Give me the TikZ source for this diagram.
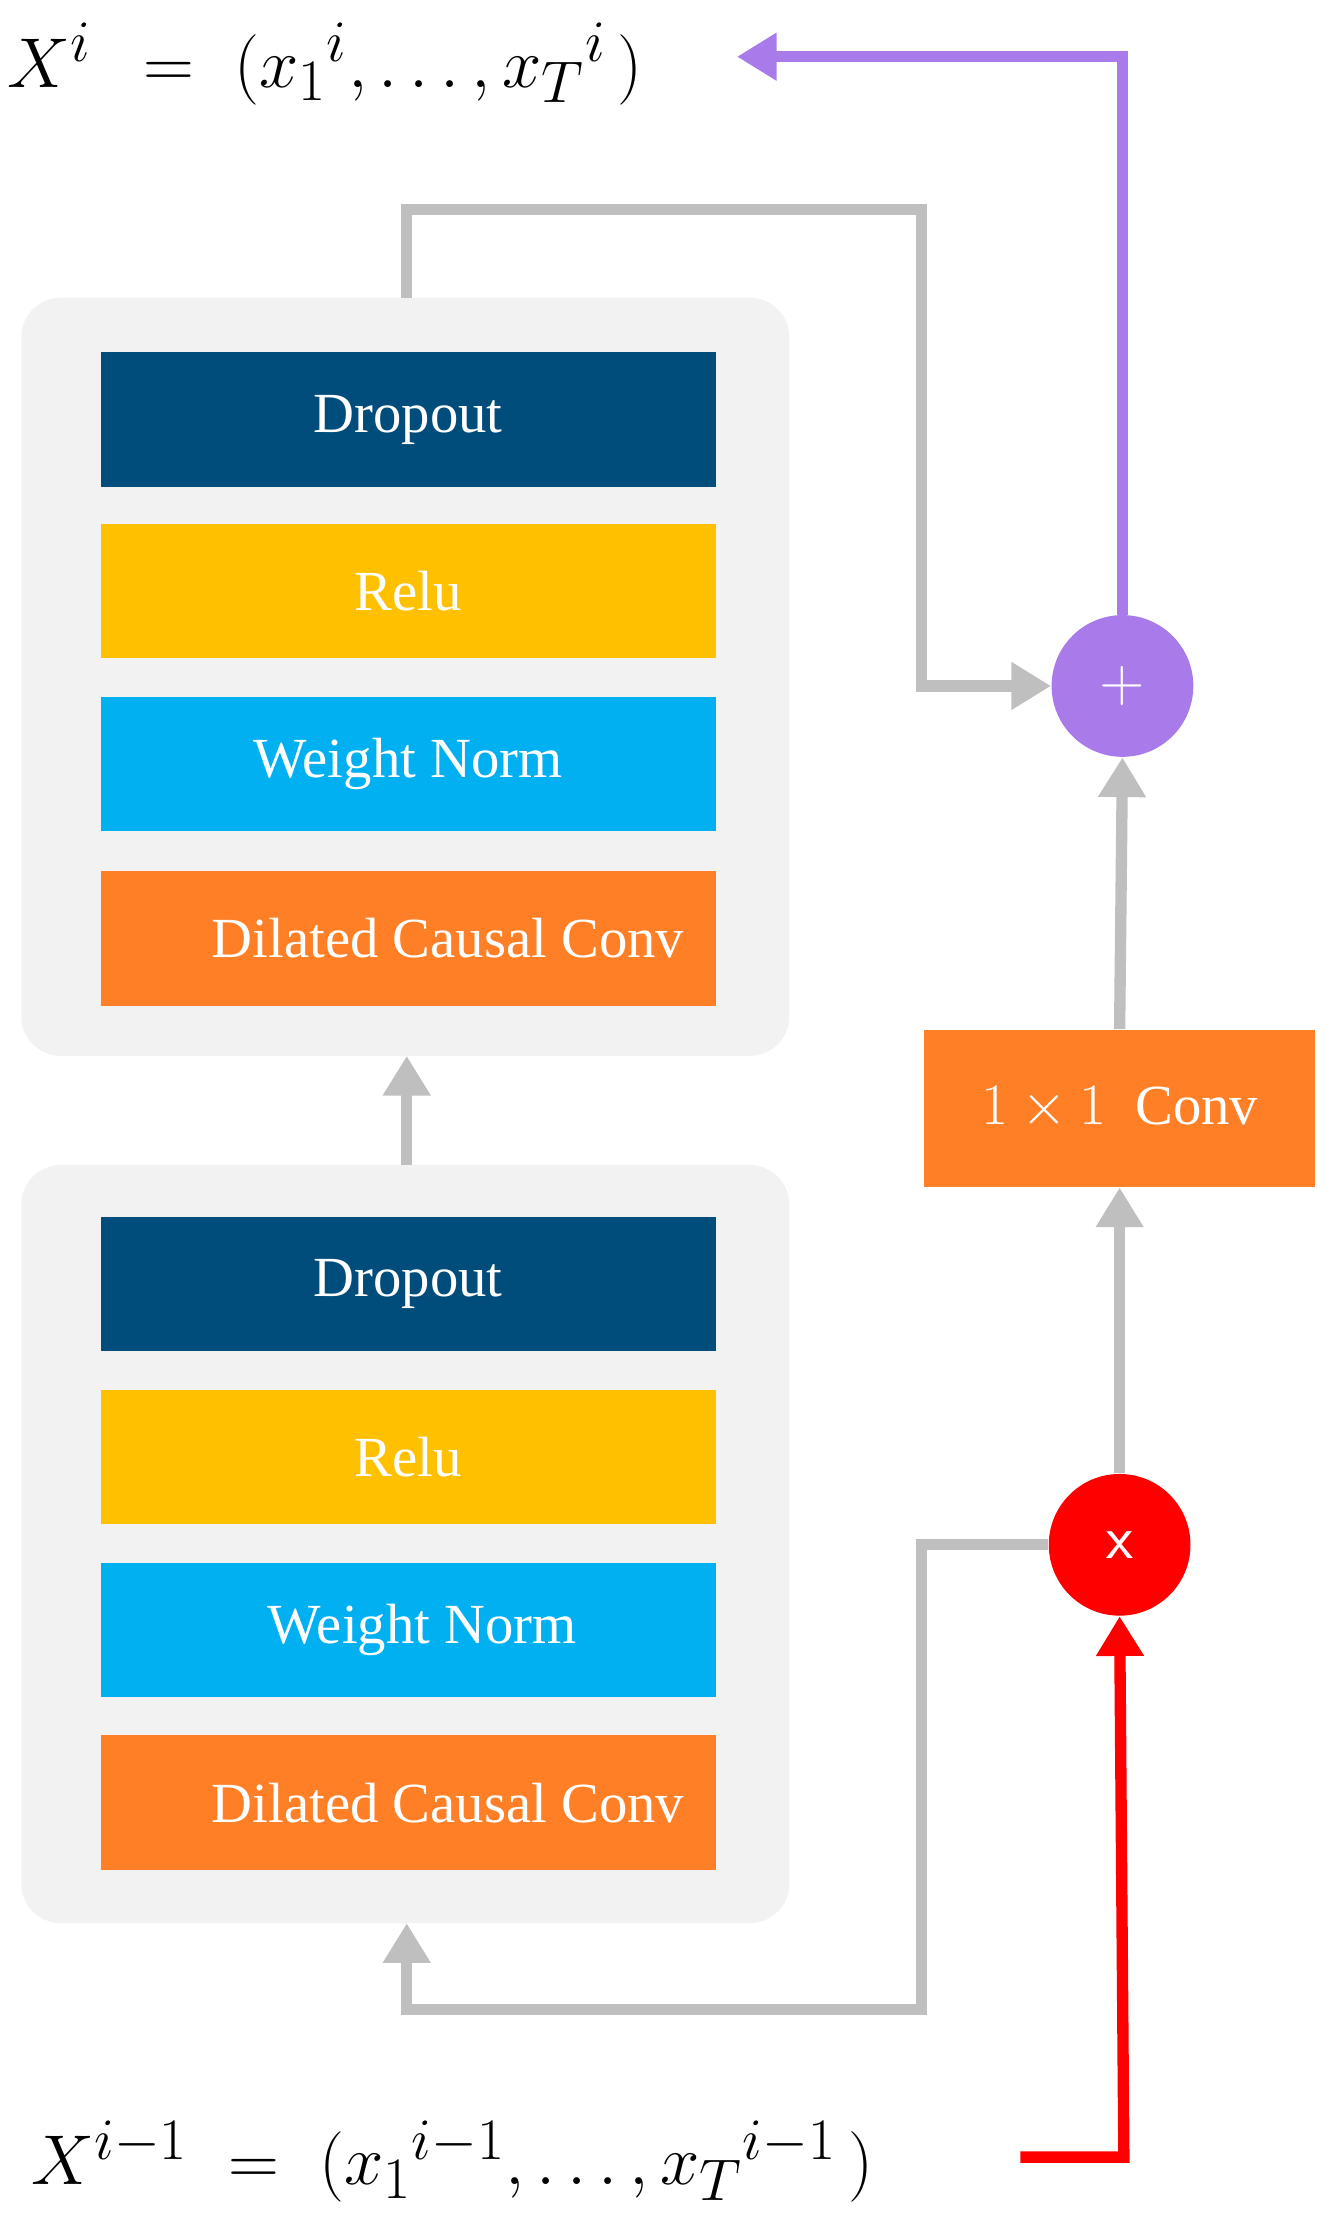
\documentclass[tikz,border=0pt]{standalone}
\usepackage{fontspec}
\setmainfont{Liberation Serif}
\usetikzlibrary{arrows.meta}
\definecolor{dblue}{HTML}{004C7B}
\definecolor{relu}{HTML}{FFC000}
\definecolor{wn}{HTML}{00B0F0}
\definecolor{dcc}{HTML}{FF7F27}
\definecolor{panel}{HTML}{F2F2F2}
\definecolor{gline}{HTML}{BFBFBF}
\definecolor{purp}{HTML}{A97BEA}
\begin{document}
\begin{tikzpicture}[x=0.5pt,y=-0.5pt,
  blk/.style={minimum width=217pt,minimum height=47.5pt,inner sep=0,text=white,font=\fontsize{20}{24}\selectfont},
  pnl/.style={fill=panel,rounded corners=14pt,draw=none},
  gl/.style={draw=gline,line width=4pt},
  tip/.style={-{Triangle[width=16pt,length=14pt]}},
  circ/.style={circle,minimum size=50pt,inner sep=0,text=white,font=\sffamily\fontsize{22}{24}\selectfont}]
\useasboundingbox (0,0) rectangle (940,1565);
\fill[pnl] (15,210) rectangle (557,745);
\fill[pnl] (15,822) rectangle (557,1357);
\coordinate (p1t) at (287,210); \coordinate (p1b) at (287,745);
\coordinate (p2t) at (287,822); \coordinate (p2b) at (287,1357);
\node[blk,fill=dblue] (d1) at (288,296) {Dropout};
\node[blk,fill=relu] (r1) at (288,417) {Relu};
\node[blk,fill=wn] (w1) at (288,539) {Weight Norm};
\node[blk,fill=dcc] (c1) at (288,662) {\hspace*{28pt}Dilated Causal Conv};
\node[blk,fill=dblue] (d2) at (288,906) {Dropout};
\node[blk,fill=relu] (r2) at (288,1028) {Relu};
\node[blk,fill=wn] (w2) at (288,1150) {\hspace*{10pt}Weight Norm};
\node[blk,fill=dcc] (c2) at (288,1272) {\hspace*{28pt}Dilated Causal Conv};
\node[fill=dcc,minimum width=138pt,minimum height=55.5pt,inner sep=0,text=white,font=\fontsize{20}{24}\selectfont] (conv) at (790,782) {$1\times1$\ \ Conv};
\node[circ,fill=purp] (plus) at (792,484) {+};
\node[circ,fill=red] (mul) at (790,1090) {x};
\node[anchor=west,inner sep=0,font=\fontsize{29}{32}\selectfont] (top) at (5,45) {$X^{i}\ \,=\ (x_1{}^{i},\ldots,x_T{}^{i}\,)$};
\node[anchor=west,inner sep=0,font=\fontsize{29}{32}\selectfont] (bot) at (22,1525) {$X^{i-1}\ =\ (x_1{}^{i-1},\ldots,x_T{}^{i-1}\,)$};
\coordinate (topend) at (520,40);
\coordinate (botstart) at (720,1522);
\draw[gl,tip] (p2t) -- (p1b);
\draw[gl,tip] (p1t) -- (287,148) -- (650,148) -- (650,484) -- (plus.west);
\draw[gl,tip] (conv.north) -- (plus.south);
\draw[gl,tip] (mul.north) -- (conv.south);
\draw[gl,tip] (mul.west) -- (650,1090) -- (650,1418) -- (287,1418) -- (p2b);
\draw[draw=purp,line width=4pt,tip] (plus.north) -- (792,40) -- (topend);
\draw[draw=red,line width=4pt,tip] (botstart) -- (793,1522) -- (mul.south);
\end{tikzpicture}
\end{document}
